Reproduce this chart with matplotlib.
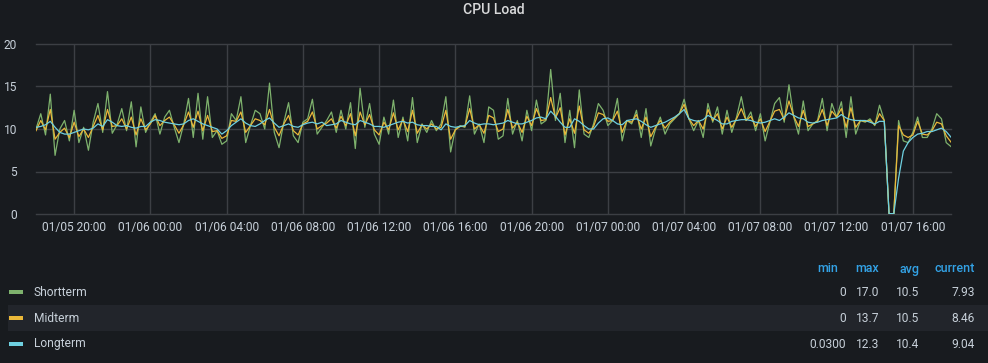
import matplotlib
matplotlib.use('Agg')
import matplotlib.pyplot as plt
import matplotlib.dates as mdates
from matplotlib.patches import Rectangle
import pandas as pd

# ---------------- data ----------------
start_time = '2021-01-05 18:00'
step = '15min'

shortterm = [
    10.0, 11.8, 9.3, 14.1,   6.9, 10.0, 11.0, 8.6,   12.2, 8.4, 10.2, 7.5,   10.8, 13.0, 9.6, 14.4,
    9.5, 10.5, 12.4, 9.8,    13.2, 7.9, 12.6, 9.6,   10.8, 11.8, 9.4, 11.4,  12.2, 10.2, 8.4, 10.6,
    13.6, 9.0, 14.2, 8.8,    13.8, 9.0, 9.8, 8.2,    8.6, 11.8, 11.0, 13.8,  8.4, 10.4, 12.2, 11.8,
    10.0, 15.4, 9.6, 7.8,    10.8, 13.1, 9.2, 8.4,   10.8, 11.2, 13.5, 9.4,  10.2, 11.0, 12.0, 9.6,
    12.2, 10.0, 13.1, 7.7,   14.8, 10.2, 13.0, 9.4,  8.2, 11.4, 9.4, 13.4,   9.0, 11.4, 8.6, 13.7,
    8.4, 10.6, 9.6, 11.0,    9.8, 10.6, 13.8, 7.3,   10.0, 10.4, 10.2, 13.9, 9.4, 10.6, 8.4, 12.6,
    12.2, 8.8, 9.2, 13.6,    9.4, 11.0, 8.6, 12.2,   9.8, 13.4, 10.6, 11.0,  17.0, 11.0, 14.2, 8.4,
    12.2, 7.8, 14.6, 9.4,    9.0, 10.6, 13.0, 12.2,  10.4, 11.0, 13.6, 8.6,  11.0, 10.6, 12.2, 9.0,
    12.4, 8.0, 10.0, 11.4,   9.4, 10.6, 11.2, 11.8,  13.5, 11.2, 9.8, 11.0,  9.0, 13.0, 10.8, 12.6,
    9.4, 12.2, 9.6, 11.4,    13.8, 11.0, 12.0, 9.8,  11.8, 8.6, 10.8, 13.0,  13.7, 10.8, 15.2, 11.4,
    9.4, 13.3, 9.8, 10.6,    11.0, 13.6, 9.8, 13.0,  11.4, 13.2, 9.0, 13.8,  9.4, 11.0, 10.8, 11.2,
    10.4, 12.8, 11.0, 0.0,   0.0, 11.0, 8.6, 8.4,    9.6, 11.4, 9.0, 9.0,    10.0, 11.8, 11.2, 8.4,
    7.93,
]

midterm = [
    9.8, 11.0, 9.9, 12.3,    8.8, 9.6, 10.1, 9.0,    10.8, 9.1, 10.0, 9.0,   10.3, 11.6, 9.9, 12.3,
    10.3, 10.4, 11.2, 10.0,  11.4, 9.3, 11.2, 9.9,   10.6, 11.6, 10.4, 11.0, 11.4, 10.5, 9.5, 10.5,
    12.0, 10.2, 12.1, 9.8,   11.6, 9.7, 9.8, 8.9,    9.2, 11.0, 10.9, 12.0,  9.6, 10.4, 11.2, 11.0,
    10.5, 12.3, 10.2, 9.2,   10.6, 11.6, 9.8, 9.3,   10.6, 10.9, 12.0, 10.0, 10.4, 10.7, 11.2, 10.1,
    11.5, 10.4, 11.8, 9.2,   12.0, 10.5, 11.7, 9.9,  9.3, 10.8, 9.9, 11.9,   9.9, 11.1, 9.7, 12.2,
    9.5, 10.5, 10.0, 10.6,   10.0, 10.2, 12.2, 8.8,  9.9, 10.3, 10.3, 12.4,  10.0, 10.5, 9.5, 11.6,
    11.3, 9.7, 10.0, 12.3,   10.1, 10.8, 9.6, 11.5,  10.4, 12.4, 11.0, 11.1, 13.7, 11.3, 12.5, 9.3,
    11.2, 9.5, 12.7, 9.9,    9.5, 10.3, 11.9, 11.7,  10.9, 11.0, 12.1, 9.6,  11.0, 10.8, 11.7, 10.0,
    11.4, 9.1, 10.2, 11.0,   10.1, 10.8, 11.3, 11.8, 12.9, 11.2, 10.4, 11.0, 10.0, 12.3, 11.0, 11.8,
    10.0, 11.4, 10.2, 11.2,  12.4, 11.0, 11.5, 10.3, 11.2, 9.7, 10.9, 12.1,  12.3, 11.1, 13.3, 11.5,
    10.3, 12.2, 10.3, 10.6,  10.9, 12.3, 10.4, 12.1, 11.4, 12.4, 10.2, 12.5, 10.2, 11.0, 10.9, 11.0,
    10.5, 11.8, 11.0, 0.0,   0.0, 10.4, 9.3, 9.0,    9.3, 10.9, 9.4, 9.3,    9.8, 10.8, 10.6, 9.2,
    8.46,
]

longterm = [
    10.2, 10.3, 10.5, 10.9,  10.2, 9.6, 9.4, 9.4,    9.6, 9.8, 10.0, 9.9,    10.1, 10.6, 10.3, 11.1,
    10.8, 10.4, 10.3, 10.4,  10.2, 10.1, 10.3, 10.3, 10.8, 11.1, 11.0, 10.8, 10.7, 10.6, 10.5, 10.6,
    11.0, 11.2, 10.9, 10.6,  10.4, 10.2, 10.0, 9.4,  9.8, 10.4, 10.8, 11.2,  10.7, 10.4, 10.3, 10.6,
    11.0, 11.3, 10.7, 10.2,  10.4, 10.6, 10.3, 10.2, 10.5, 10.7, 10.8, 10.6, 10.8, 10.4, 10.5, 10.6,
    11.0, 10.8, 10.6, 10.5,  11.0, 10.8, 10.6, 10.3, 10.3, 10.2, 10.4, 10.6, 10.8, 10.9, 10.7, 10.8,
    10.5, 10.4, 10.4, 10.3,  10.3, 9.9, 10.6, 10.3,  10.2, 10.3, 10.4, 11.0, 10.7, 10.5, 10.6, 10.6,
    10.5, 10.6, 10.7, 11.0,  10.8, 10.6, 10.6, 10.8, 11.0, 11.3, 11.4, 11.2, 12.1, 11.5, 10.8, 10.2,
    10.2, 11.2, 10.9, 10.4,  10.0, 10.0, 10.7, 11.2, 11.3, 11.0, 10.6, 10.5, 11.0, 11.1, 11.2, 10.9,
    10.5, 10.2, 10.4, 10.6,  10.8, 11.1, 11.4, 11.8, 12.3, 11.2, 11.0, 10.9, 11.1, 11.6, 11.3, 11.0,
    10.6, 10.6, 10.9, 11.0,  11.1, 11.1, 11.0, 10.8, 10.7, 10.8, 11.0, 11.2, 11.0, 11.4, 11.9, 11.6,
    11.3, 11.2, 10.8, 10.7,  10.8, 11.0, 11.1, 11.2, 11.3, 11.7, 11.3, 11.1, 11.0, 11.0, 11.0, 10.8,
    10.6, 10.9, 10.9, 0.05,  0.03, 4.2, 7.4, 8.4,    9.0, 9.4, 9.5, 9.7,     9.7, 9.9, 10.1, 9.7,
    9.04,
]

series_names = ['Shortterm', 'Midterm', 'Longterm']
series_colors = ['#7eb26d', '#eab839', '#6ed0e0']
stat_headers = ['min', 'max', 'avg', 'current']
stat_values = [
    ['0', '17.0', '10.5', '7.93'],
    ['0', '13.7', '10.5', '8.46'],
    ['0.0300', '12.3', '10.4', '9.04'],
]
y_ticks = [0, 5, 10, 15, 20]
x_tick_times = pd.date_range('2021-01-05 20:00', '2021-01-07 16:00', freq='4h')
title = 'CPU Load'

# ---------------- style ----------------
W, H = 988, 363
BG = '#181b1f'
ROW_BG = '#22252b'
GRID = '#3c3f44'
TXT = '#c7d0d9'
BLUE = '#33a2e5'

plt.rcParams['font.family'] = ['Roboto', 'DejaVu Sans']

def px(n):
    return n * 0.72

fig = plt.figure(figsize=(W / 100, H / 100), dpi=100, facecolor=BG)

left, right, top, bottom = 36, 951, 44, 214
ax = fig.add_axes([left / W, 1 - bottom / H, (right - left) / W, (bottom - top) / H])
ax.set_facecolor(BG)

times = pd.date_range(start_time, periods=len(shortterm), freq=step)
for vals, col in zip([shortterm, midterm, longterm], series_colors):
    ax.plot(times, vals, color=col, lw=0.9, solid_joinstyle='round')

ax.set_xlim(times[0], times[-1])
ax.set_ylim(0, 20)
ax.set_yticks(y_ticks)
ax.set_xticks(x_tick_times)
ax.xaxis.set_major_formatter(mdates.DateFormatter('%m/%d %H:%M'))
for s in ax.spines.values():
    s.set_visible(False)
for yv in y_ticks:
    ax.axhline(yv, color=GRID, lw=1, zorder=0, clip_on=False)
for xv in x_tick_times:
    ax.axvline(xv, color=GRID, lw=1, zorder=0)
ax.tick_params(axis='both', length=0, colors=TXT, labelsize=px(12))
ax.tick_params(axis='y', pad=px(19))
ax.tick_params(axis='x', pad=px(7))

fig.text(494 / W, 1 - 10 / H, title, ha='center', va='center', color='#d8d9da',
         fontsize=px(14), fontweight='medium')

# ---------------- legend table ----------------
def fy(y):
    return 1 - y / H

fig.patches.append(Rectangle((8 / W, fy(331)), 980 / W, 26 / H, transform=fig.transFigure,
                             facecolor=ROW_BG, edgecolor='none', zorder=0))

header_y = 269
col_right_hdr = [838, 879, 919, 975]
col_right_val = [846, 879, 919, 975]
for hx, hname in zip(col_right_hdr, stat_headers):
    fig.text(hx / W, fy(header_y), hname, ha='right', va='center', color=BLUE,
             fontsize=px(12.5), fontweight='medium')

row_ys = [292, 318, 344]
for ry, name, col, vals in zip(row_ys, series_names, series_colors, stat_values):
    fig.patches.append(Rectangle((9 / W, fy(ry + 2)), 14 / W, 4 / H, transform=fig.transFigure,
                                 facecolor=col, edgecolor='none'))
    fig.text(34 / W, fy(ry), name, ha='left', va='center', color=TXT, fontsize=px(12))
    for cx, v in zip(col_right_val, vals):
        fig.text(cx / W, fy(ry), v, ha='right', va='center', color=TXT, fontsize=px(12))

fig.savefig('out.png', dpi=100, facecolor=BG)
